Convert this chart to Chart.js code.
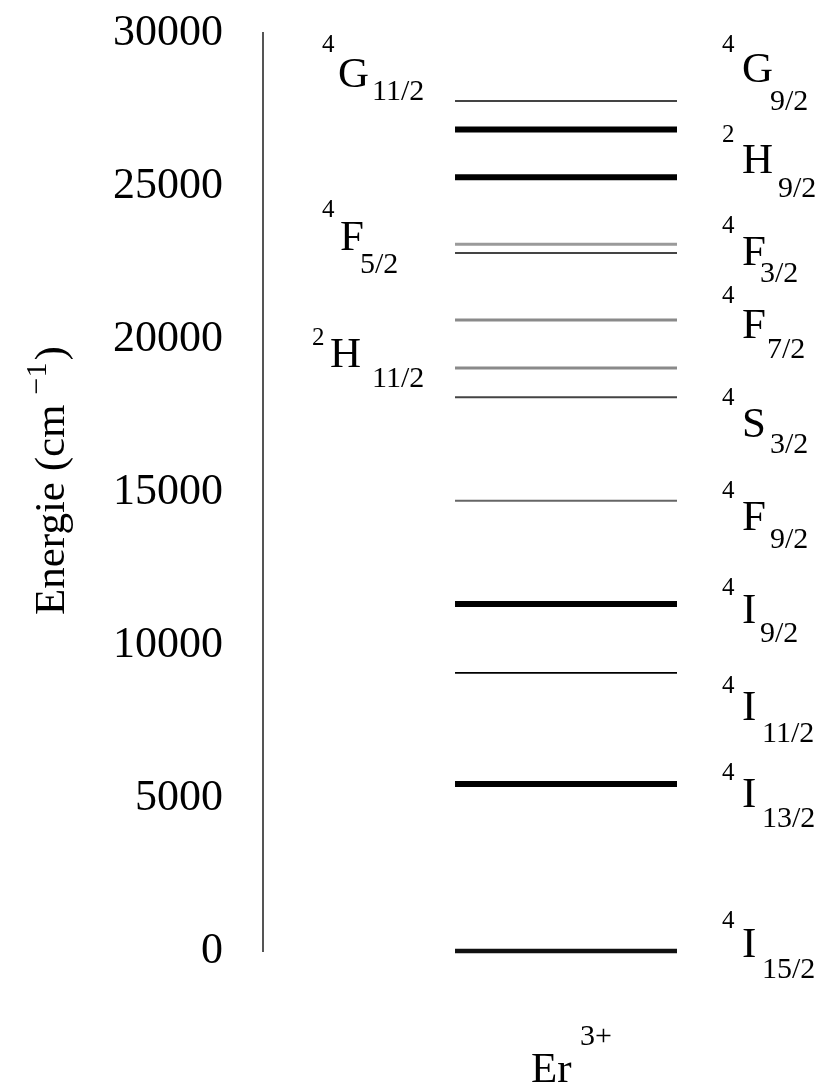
<!DOCTYPE html>
<html><head><meta charset="utf-8">
<script src="https://cdn.jsdelivr.net/npm/chart.js@4.4.1/dist/chart.umd.min.js"></script>
<style>html,body{margin:0;padding:0;background:#fff}</style>
</head><body>
<canvas id="c" width="820" height="1086"></canvas>
<script>
// ---- data ----
const levelTerms    = ['4I15/2','4I13/2','4I11/2','4I9/2','4F9/2','4S3/2','2H11/2','4F7/2','4F5/2','4F3/2','2H9/2','4G11/2','4G9/2'];
const levelEnergies = [0, 5460, 9090, 11340, 14710, 18100, 19050, 20620, 22810, 23100, 25290, 26850, 27780];
const yTicks = [0, 5000, 10000, 15000, 20000, 25000, 30000];
const yTitleText = 'Energie (cm';
const yTitleSup = '\u22121';
const ionName = 'Er';
const ionCharge = '3+';

// ---- styles (kept apart from data) ----
const levelStyle = ['bottom','thick','thin','thick','mid','dark','gray','gray','dark','lightgray','thick','thick','dark'];
const styleMap = {
  thick:     {w: 6,   c: '#000000'},
  bottom:    {w: 4.5, c: '#111111'},
  thin:      {w: 1.6, c: '#000000'},
  dark:      {w: 2,   c: '#444444'},
  mid:       {w: 2,   c: '#666666'},
  gray:      {w: 3,   c: '#8a8a8a'},
  lightgray: {w: 3,   c: '#9a9a9a'}
};

// ---- label layout (pixels) ----
// sup, main letter, sub, supX, mainX, subX, mainBaseline, supBaseline, subBaseline
const termLabels = [
  ['4','G','9/2', 722,742,770,  82, 52,110],
  ['2','H','9/2', 722,742,778, 173,142,197],
  ['4','F','3/2', 722,742,760, 265,233,282],
  ['4','F','7/2', 722,742,767, 338,303,358],
  ['4','S','3/2', 722,742,770, 437,405,453],
  ['4','F','9/2', 722,742,770, 530,498,548],
  ['4','I','9/2', 722,742,760, 623,595,642],
  ['4','I','11/2',722,742,762, 720,693,742],
  ['4','I','13/2',722,742,762, 807,780,827],
  ['4','I','15/2',722,742,762, 957,928,978],
  ['4','G','11/2',322,338,372,  87, 52,100],
  ['4','F','5/2', 322,340,360, 250,217,273],
  ['2','H','11/2',312,330,372, 367,345,387]
];

const FAM = '"Liberation Serif", "Times New Roman", serif';
Chart.defaults.font.family = FAM;

const datasets = levelTerms.map((t, i) => {
  const s = styleMap[levelStyle[i]];
  return {
    label: t,
    data: [{x: 0, y: levelEnergies[i]}, {x: 1, y: levelEnergies[i]}],
    showLine: true,
    borderColor: s.c,
    borderWidth: s.w,
    borderCapStyle: 'butt',
    pointRadius: 0,
    pointHoverRadius: 0,
    clip: false
  };
});

const labelPlugin = {
  id: 'labels',
  afterDraw(chart) {
    const ctx = chart.ctx;
    ctx.save();
    ctx.fillStyle = '#000';
    ctx.textBaseline = 'alphabetic';
    ctx.textAlign = 'left';
    termLabels.forEach(l => {
      ctx.font = `25px ${FAM}`;
      ctx.fillText(l[0], l[3], l[7]);
      ctx.font = `43px ${FAM}`;
      ctx.fillText(l[1], l[4], l[6]);
      ctx.font = `30px ${FAM}`;
      ctx.fillText(l[2], l[5], l[8]);
    });
    // ion label
    ctx.font = `43px ${FAM}`;
    ctx.fillText(ionName, 531, 1082);
    ctx.font = `30px ${FAM}`;
    ctx.fillText(ionCharge, 580, 1045);
    // y title
    ctx.translate(64, 615);
    ctx.rotate(-Math.PI / 2);
    ctx.font = `43px ${FAM}`;
    ctx.fillText(yTitleText, 0, 0);
    const w = ctx.measureText(yTitleText).width;
    ctx.font = `30px ${FAM}`;
    ctx.fillText(yTitleSup, w + 10, -18);
    const w2 = ctx.measureText(yTitleSup).width;
    ctx.font = `43px ${FAM}`;
    ctx.fillText(')', w + 10 + w2 + 2, 0);
    ctx.restore();
  }
};

new Chart(document.getElementById('c'), {
  type: 'scatter',
  data: {datasets},
  options: {
    responsive: false,
    animation: false,
    devicePixelRatio: 1,
    layout: {padding: {left: 0, top: 33, right: 143, bottom: 135}},
    plugins: {legend: {display: false}, tooltip: {enabled: false}},
    scales: {
      x: {type: 'linear', min: -0.865, max: 1, display: false},
      y: {
        type: 'linear', min: 0, max: 30000,
        afterBuildTicks: s => { s.ticks = yTicks.map(v => ({value: v})); },
        afterFit: s => { s.width = 263; s.paddingTop = 0; s.paddingBottom = 0; },
        grid: {display: false, drawTicks: false},
        border: {display: true, color: '#555', width: 2},
        ticks: {font: {family: FAM, size: 44}, color: '#000', padding: 40, callback: v => String(v)}
      }
    }
  },
  plugins: [labelPlugin]
});
</script>
</body></html>
